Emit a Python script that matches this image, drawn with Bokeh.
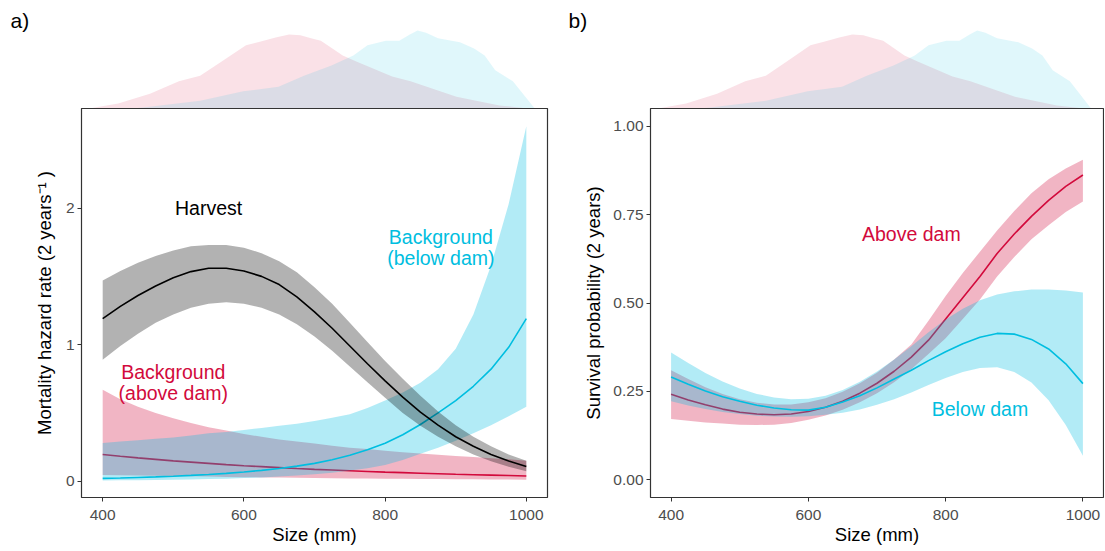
from bokeh.plotting import figure
from bokeh.layouts import row, column
from bokeh.models import FixedTicker, Label, Range1d
from bokeh.core.properties import value
from bokeh.embed import file_html
from bokeh.resources import INLINE

# ---------------- data ----------------
size_mm = [400, 425, 450, 475, 500, 525, 550, 575, 600, 625, 650, 675, 700,
           725, 750, 775, 800, 825, 850, 875, 900, 925, 950, 975, 1000]

# panel a: mortality hazard rate
harvest_mid = [1.19, 1.28, 1.36, 1.43, 1.49, 1.535, 1.56, 1.56, 1.54, 1.50, 1.44, 1.35, 1.24,
               1.12, 0.99, 0.86, 0.735, 0.615, 0.505, 0.41, 0.325, 0.255, 0.195, 0.148, 0.107]
harvest_hi = [1.47, 1.54, 1.60, 1.65, 1.69, 1.72, 1.73, 1.73, 1.71, 1.67, 1.61, 1.53, 1.42,
              1.30, 1.16, 1.02, 0.88, 0.75, 0.625, 0.51, 0.41, 0.325, 0.255, 0.195, 0.15]
harvest_lo = [0.89, 0.99, 1.08, 1.16, 1.22, 1.27, 1.30, 1.31, 1.30, 1.27, 1.22, 1.15, 1.06,
              0.955, 0.84, 0.725, 0.61, 0.50, 0.405, 0.325, 0.255, 0.195, 0.145, 0.105, 0.072]

bg_below_mid = [0.020, 0.023, 0.027, 0.031, 0.036, 0.042, 0.049, 0.057, 0.067, 0.079, 0.093, 0.11, 0.13,
                0.157, 0.19, 0.23, 0.278, 0.34, 0.415, 0.50, 0.59, 0.695, 0.82, 0.98, 1.19]
bg_below_hi = [0.28, 0.29, 0.30, 0.31, 0.32, 0.335, 0.35, 0.36, 0.375, 0.39, 0.405, 0.42, 0.44,
               0.465, 0.49, 0.535, 0.59, 0.65, 0.72, 0.82, 0.97, 1.22, 1.58, 2.03, 2.60]
bg_below_lo = [0.005, 0.006, 0.007, 0.008, 0.010, 0.012, 0.015, 0.018, 0.022, 0.027, 0.033, 0.041, 0.05,
               0.062, 0.077, 0.095, 0.118, 0.155, 0.20, 0.245, 0.295, 0.35, 0.41, 0.475, 0.545]

bg_above_mid = [0.195, 0.182, 0.170, 0.159, 0.148, 0.139, 0.130, 0.121, 0.113, 0.106, 0.099, 0.092, 0.086,
                0.081, 0.076, 0.071, 0.066, 0.062, 0.058, 0.054, 0.050, 0.047, 0.044, 0.041, 0.038]
bg_above_hi = [0.67, 0.60, 0.545, 0.50, 0.46, 0.425, 0.395, 0.37, 0.345, 0.325, 0.305, 0.29, 0.275,
               0.26, 0.245, 0.235, 0.222, 0.212, 0.202, 0.193, 0.184, 0.176, 0.168, 0.16, 0.15]
bg_above_lo = [0.045, 0.043, 0.041, 0.039, 0.037, 0.035, 0.033, 0.031, 0.029, 0.027, 0.026, 0.024, 0.023,
               0.021, 0.020, 0.019, 0.018, 0.017, 0.016, 0.015, 0.014, 0.013, 0.012, 0.011, 0.010]

# panel b: survival probability
surv_above_mid = [0.242, 0.226, 0.212, 0.200, 0.191, 0.186, 0.184, 0.186, 0.193, 0.205, 0.222, 0.245, 0.273,
                  0.307, 0.347, 0.395, 0.455, 0.515, 0.575, 0.64, 0.695, 0.745, 0.79, 0.83, 0.862]
surv_above_hi = [0.31, 0.285, 0.262, 0.243, 0.228, 0.218, 0.213, 0.213, 0.219, 0.231, 0.249, 0.273, 0.303,
                 0.34, 0.383, 0.45, 0.52, 0.585, 0.645, 0.705, 0.76, 0.81, 0.85, 0.88, 0.905]
surv_above_lo = [0.172, 0.167, 0.162, 0.159, 0.156, 0.155, 0.156, 0.161, 0.170, 0.182, 0.198, 0.219, 0.245,
                 0.276, 0.313, 0.356, 0.40, 0.455, 0.51, 0.575, 0.63, 0.68, 0.72, 0.757, 0.787]

surv_below_mid = [0.291, 0.27, 0.251, 0.235, 0.222, 0.211, 0.203, 0.198, 0.197, 0.205, 0.22, 0.238, 0.26,
                  0.285, 0.31, 0.337, 0.362, 0.385, 0.403, 0.414, 0.412, 0.397, 0.37, 0.328, 0.272]
surv_below_hi = [0.36, 0.33, 0.302, 0.278, 0.258, 0.243, 0.233, 0.228, 0.229, 0.238, 0.254, 0.277, 0.306,
                 0.34, 0.378, 0.417, 0.453, 0.484, 0.508, 0.524, 0.533, 0.538, 0.538, 0.535, 0.53]
surv_below_lo = [0.222, 0.21, 0.2, 0.192, 0.186, 0.181, 0.179, 0.178, 0.18, 0.184, 0.19, 0.199, 0.212,
                 0.228, 0.247, 0.268, 0.288, 0.305, 0.316, 0.318, 0.305, 0.275, 0.225, 0.155, 0.068]

# size distributions (relative density)
dens_above_size = [381, 422, 467, 508, 538, 568, 603, 624, 645, 664, 680, 695, 709, 740, 760, 810, 836, 901,
                   962, 1002]
dens_above_rel = [0.0, 0.064, 0.19, 0.35, 0.42, 0.60, 0.81, 0.86, 0.91, 0.95, 0.94, 0.90, 0.87, 0.68, 0.60,
                  0.41, 0.35, 0.15, 0.04, 0.0]
dens_below_size = [440, 457, 493, 538, 599, 649, 685, 724, 755, 775, 801, 820, 835, 846, 858, 875, 906, 926,
                   941, 956, 981, 1012]
dens_below_rel = [0.0, 0.013, 0.05, 0.10, 0.22, 0.28, 0.42, 0.55, 0.68, 0.81, 0.87, 0.87, 0.95, 1.0, 0.97,
                  0.90, 0.85, 0.77, 0.68, 0.49, 0.35, 0.0]

x_ticks = [400, 600, 800, 1000]
ya_ticks = [0, 1, 2]
yb_ticks = [0, 0.25, 0.5, 0.75, 1.0]
yb_tick_labels = ["0.00", "0.25", "0.50", "0.75", "1.00"]

# ---------------- style ----------------
FONT = "Liberation Sans"
RED = "#D20A3C"
CYAN = "#00BEE0"
X_LO, X_HI = 370, 1030

WA, WB = 565, 539
HD, HM = 108, 442


def density_fig(width, left, right, tag, tag_x):
    frame_w = width - left - right
    k = (X_HI - X_LO) / frame_w
    p = figure(width=width, height=HD, x_range=Range1d(X_LO - left * k, X_HI + right * k),
               y_range=Range1d(0, HD / 78.0),
               x_axis_location=None, y_axis_location=None, output_backend="svg",
               toolbar_location=None, min_border_left=0, min_border_right=0,
               min_border_top=0, min_border_bottom=0)
    p.outline_line_color = None
    p.grid.visible = False
    p.varea(x=dens_above_size, y1=[0] * len(dens_above_size), y2=dens_above_rel,
            fill_color=RED, fill_alpha=0.12)
    p.varea(x=dens_below_size, y1=[0] * len(dens_below_size), y2=dens_below_rel,
            fill_color=CYAN, fill_alpha=0.12)
    p.add_layout(Label(x=tag_x, y=88, x_units="screen", y_units="screen",
                       text=tag, text_font=FONT, text_font_size="21px", text_color="black",
                       text_baseline="middle", text_align="left"))
    return p


def main_fig(width, left, right, yr, yticks, ylabel, ystand):
    p = figure(width=width, height=HM, x_range=Range1d(X_LO, X_HI), y_range=Range1d(*yr),
               output_backend="svg", toolbar_location=None,
               min_border_left=left, min_border_right=right, min_border_top=0,
               min_border_bottom=HM - 389)
    p.outline_line_color = "#333333"
    p.outline_line_width = 1.2
    p.grid.visible = False
    p.xaxis.ticker = FixedTicker(ticks=x_ticks)
    p.yaxis.ticker = FixedTicker(ticks=yticks)
    p.xaxis.axis_label = "Size (mm)"
    p.yaxis.axis_label = ylabel
    for ax in p.axis:
        ax.axis_line_color = None
        ax.major_tick_line_color = "#333333"
        ax.major_tick_out = 4
        ax.major_tick_in = 0
        ax.minor_tick_line_color = None
        ax.major_label_text_font = FONT
        ax.major_label_text_font_size = "15.5px"
        ax.major_label_text_color = "#4D4D4D"
        ax.axis_label_text_font = FONT
        ax.axis_label_text_font_size = "18.5px"
        ax.axis_label_text_font_style = "normal"
        ax.axis_label_text_color = "black"
    p.xaxis.major_label_standoff = 8
    p.xaxis.axis_label_standoff = 1
    p.yaxis.major_label_standoff = 3
    p.yaxis.axis_label_standoff = ystand
    return p


def annot(p, x, y, txt, color):
    p.text(x=[x], y=[y], text=[txt], text_font=value(FONT), text_font_size=value("19.5px"),
           text_color=color, text_align="center", text_baseline="middle")


# ---------------- panel a ----------------
da = density_fig(WA, 81, 18, "a)", 10)
ma = main_fig(WA, 81, 18, (-0.12, 2.73), ya_ticks, "Mortality hazard rate (2 years\u207b\u00b9 )", 8)
ma.varea(x=size_mm, y1=bg_above_lo, y2=bg_above_hi, fill_color=RED, fill_alpha=0.3)
ma.line(size_mm, bg_above_mid, line_color=RED, line_width=1.6)
ma.varea(x=size_mm, y1=bg_below_lo, y2=bg_below_hi, fill_color=CYAN, fill_alpha=0.3)
ma.line(size_mm, bg_below_mid, line_color=CYAN, line_width=1.6)
ma.varea(x=size_mm, y1=harvest_lo, y2=harvest_hi, fill_color="black", fill_alpha=0.3)
ma.line(size_mm, harvest_mid, line_color="black", line_width=1.6)
annot(ma, 550, 2.0, "Harvest", "black")
annot(ma, 879, 1.79, "Background", CYAN)
annot(ma, 879, 1.635, "(below dam)", CYAN)
annot(ma, 500, 0.80, "Background", RED)
annot(ma, 500, 0.647, "(above dam)", RED)

# ---------------- panel b ----------------
db = density_fig(WB, 85, 1, "b)", 3)
mb = main_fig(WB, 85, 1, (-0.05, 1.05), yb_ticks, "Survival probability (2 years)", 6)
mb.yaxis.major_label_overrides = {t: l for t, l in zip(yb_ticks, yb_tick_labels)}
mb.varea(x=size_mm, y1=surv_above_lo, y2=surv_above_hi, fill_color=RED, fill_alpha=0.3)
mb.line(size_mm, surv_above_mid, line_color=RED, line_width=1.6)
mb.varea(x=size_mm, y1=surv_below_lo, y2=surv_below_hi, fill_color=CYAN, fill_alpha=0.3)
mb.line(size_mm, surv_below_mid, line_color=CYAN, line_width=1.6)
annot(mb, 750, 0.695, "Above dam", RED)
annot(mb, 850, 0.2, "Below dam", CYAN)

layout = column(row(da, db), row(ma, mb))
open("out.html", "w").write(file_html(layout, INLINE))
